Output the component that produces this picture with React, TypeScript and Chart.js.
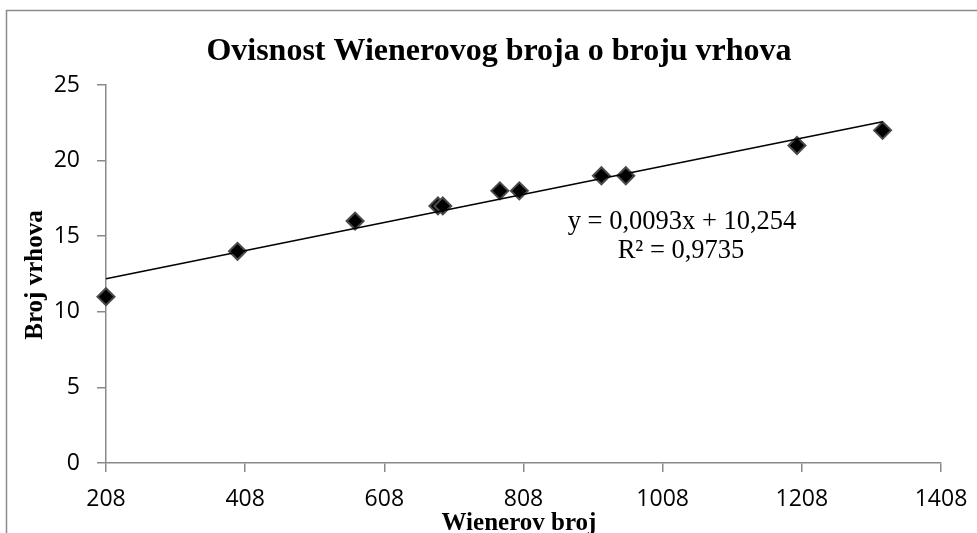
import React, { useEffect, useRef } from "react";
import { Chart, registerables } from "chart.js";

Chart.register(...registerables);

const wienerIndex = [208, 397, 566, 685, 692, 774, 802, 920, 955, 1201, 1324];
const vertexCount = [11, 14, 16, 17, 17, 18, 18, 19, 19, 21, 22];
const xTickValues = [208, 408, 608, 808, 1008, 1208, 1408];
const trendSlope = 0.0093;
const trendIntercept = 10.254;
const trendRange = [208, 1324];
const chartTitle = "Ovisnost Wienerovog broja o broju vrhova";
const xTitle = "Wienerov broj";
const yTitle = "Broj vrhova";
const equationLines = ["y = 0,0093x + 10,254", "R² = 0,9735"];

const AXIS_GREY = "#8a8a8a";
const TICK_FONT = "'Open Sans', 'Noto Sans', sans-serif";
const SERIF = "'Liberation Serif', 'Times New Roman', serif";

export default function App() {
  const canvasRef = useRef<HTMLCanvasElement | null>(null);

  useEffect(() => {
    const canvas = canvasRef.current;
    if (!canvas) return;

    const decorPlugin = {
      id: "decor",
      beforeDraw(chart: any) {
        const ctx = chart.ctx;
        ctx.save();
        ctx.fillStyle = "#ffffff";
        ctx.fillRect(0, 0, chart.width, chart.height);
        ctx.strokeStyle = "#8c8c8c";
        ctx.lineWidth = 1.5;
        ctx.strokeRect(6.5, 10.5, 1100, 700);
        ctx.restore();
      },
      afterDraw(chart: any) {
        const ctx = chart.ctx;
        ctx.save();
        ctx.fillStyle = "#000000";
        // title
        ctx.font = `bold 32px ${SERIF}`;
        ctx.textAlign = "center";
        ctx.textBaseline = "alphabetic";
        ctx.fillText(chartTitle, 499, 60);
        // x title
        ctx.font = `bold 25px ${SERIF}`;
        ctx.fillText(xTitle, 519, 530);
        // y title
        ctx.save();
        ctx.translate(42, 275);
        ctx.rotate(-Math.PI / 2);
        ctx.fillText(yTitle, 0, 0);
        ctx.restore();
        // equation
        ctx.font = `26.5px ${SERIF}`;
        ctx.fillText(equationLines[0], 682, 229);
        ctx.fillText(equationLines[1], 681, 258);
        ctx.restore();
      },
    };

    const chart = new Chart(canvas, {
      type: "scatter",
      data: {
        datasets: [
          {
            label: "Trend",
            data: trendRange.map((x) => ({ x, y: trendSlope * x + trendIntercept })),
            showLine: true,
            borderColor: "#000000",
            borderWidth: 1.5,
            pointRadius: 0,
            fill: false,
            clip: false,
          },
          {
            label: "Broj vrhova",
            data: wienerIndex.map((x, i) => ({ x, y: vertexCount[i] })),
            pointStyle: "rectRot",
            pointRadius: 8.5,
            pointBackgroundColor: "#000000",
            pointBorderColor: "#4a4a4a",
            pointBorderWidth: 2,
            showLine: false,
            clip: false,
          },
        ],
      },
      options: {
        responsive: false,
        animation: false,
        devicePixelRatio: 1,
        layout: { padding: { left: 0, top: 85, right: 36, bottom: 0 } },
        plugins: {
          legend: { display: false },
          tooltip: { enabled: false },
          title: { display: false },
        },
        scales: {
          x: {
            type: "linear",
            min: 208,
            max: 1408,
            afterBuildTicks: (scale: any) => {
              scale.ticks = xTickValues.map((v) => ({ value: v }));
            },
            afterFit: (scale: any) => {
              scale.height = 70;
              scale.paddingLeft = 0;
              scale.paddingRight = 0;
            },
            grid: {
              drawOnChartArea: false,
              drawTicks: true,
              tickLength: 9,
              color: AXIS_GREY,
              lineWidth: 1.5,
            },
            border: { display: true, color: AXIS_GREY, width: 1.5 },
            ticks: {
              color: "#000000",
              font: { family: TICK_FONT, size: 23 },
              padding: 14,
              maxRotation: 0,
              autoSkip: false,
              callback: (v: any) => String(v),
            },
          },
          y: {
            type: "linear",
            min: 0,
            max: 25,
            afterFit: (scale: any) => {
              scale.width = 106;
              scale.paddingTop = 0;
              scale.paddingBottom = 0;
            },
            grid: {
              drawOnChartArea: false,
              drawTicks: true,
              tickLength: 9,
              color: AXIS_GREY,
              lineWidth: 1.5,
            },
            border: { display: true, color: AXIS_GREY, width: 1.5 },
            ticks: {
              color: "#000000",
              font: { family: TICK_FONT, size: 23 },
              padding: 17,
              stepSize: 5,
            },
          },
        },
      },
      plugins: [decorPlugin],
    });

    return () => {
      chart.destroy();
    };
  }, []);

  return (
    <div style={{ position: "fixed", left: 0, top: 0, width: 977, height: 533 }}>
      <canvas ref={canvasRef} width={977} height={533} style={{ width: 977, height: 533 }} />
    </div>
  );
}
